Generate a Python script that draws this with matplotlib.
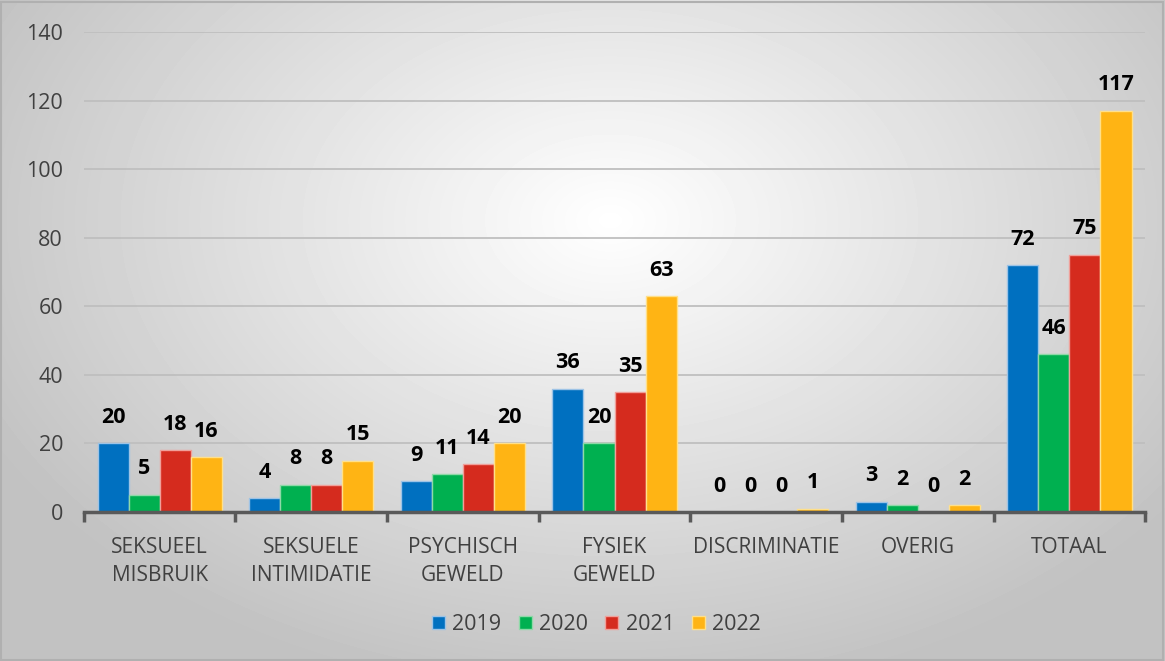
import numpy as np
import matplotlib.pyplot as plt

categories = ['SEKSUEEL\nMISBRUIK', 'SEKSUELE\nINTIMIDATIE', 'PSYCHISCH\nGEWELD',
              'FYSIEK\nGEWELD', 'DISCRIMINATIE', 'OVERIG', 'TOTAAL']
years = ['2019', '2020', '2021', '2022']
v2019 = [20, 4, 9, 36, 0, 3, 72]
v2020 = [5, 8, 11, 20, 0, 2, 46]
v2021 = [18, 8, 14, 35, 0, 0, 75]
v2022 = [16, 15, 20, 63, 1, 2, 117]
colors = ['#0070C0', '#00B050', '#D52B1E', '#FFB414']
edges = ['#9DC3E6', '#8FD9A8', '#F0A09A', '#FFE08A']

plt.rcParams['font.family'] = ['Open Sans', 'DejaVu Sans']

fig = plt.figure(figsize=(11.65, 6.61), dpi=100)

# radial gradient background
bg = fig.add_axes([0, 0, 1, 1], zorder=-10)
yy, xx = np.mgrid[0:661, 0:1165]
r = np.sqrt(((xx - 610) / 700.0) ** 2 + ((yy - 220) / 480.0) ** 2)
r = np.clip(r, 0, 1)
g = 1.0 - 0.24 * r
bg.imshow(g, cmap='gray', vmin=0, vmax=1, aspect='auto', extent=[0, 1, 0, 1], origin='upper')
bg.set_xlim(0, 1)
bg.set_ylim(0, 1)
bg.axis('off')
bg.add_patch(plt.Rectangle((0.001, 0.002), 0.997, 0.995, fill=False, ec='#b0b0b0', lw=1.5))

ax = fig.add_axes([0.072, 0.2254, 0.911, 0.7262])
ax.patch.set_alpha(0)

x = np.arange(len(categories))
w = 0.205
series = [v2019, v2020, v2021, v2022]
for i, vals in enumerate(series):
    pos = x + (i - 1.5) * w
    bars = ax.bar(pos, vals, w, color=colors[i], edgecolor=edges[i], linewidth=1,
                  label=years[i], zorder=3)
    for b, v in zip(bars, vals):
        ax.text(b.get_x() + b.get_width() / 2, v + 4.5, str(v), ha='center', va='bottom',
                fontsize=15.5, fontweight='bold', color='black')

ax.set_ylim(0, 140)
ax.set_xlim(-0.5, len(categories) - 0.5)
ax.set_yticks(range(0, 141, 20))
ax.grid(axis='y', color='#bfbfbf', linewidth=1.3, zorder=0)
ax.tick_params(axis='y', length=0, labelsize=15.5, labelcolor='#404040', pad=15)
ax.set_xticks(x)
ax.set_xticklabels(categories, fontsize=15, color='#404040', linespacing=1.45)
ax.tick_params(axis='x', length=0, pad=18)
ax.set_xticks(np.arange(-0.5, len(categories), 1), minor=True)
ax.tick_params(axis='x', which='minor', length=7, width=2.5, color='#595959', direction='out')
for s in ['top', 'right', 'left']:
    ax.spines[s].set_visible(False)
ax.spines['bottom'].set_color('#595959')
ax.spines['bottom'].set_linewidth(2.5)
ax.spines['bottom'].set_zorder(4)

fig.legend(loc='center', bbox_to_anchor=(0.512, 0.055), ncol=4, frameon=False,
           fontsize=15.5, handlelength=0.6, handleheight=0.6, handletextpad=0.35,
           columnspacing=0.8, labelcolor='#404040')

fig.savefig('out.png', dpi=100)
